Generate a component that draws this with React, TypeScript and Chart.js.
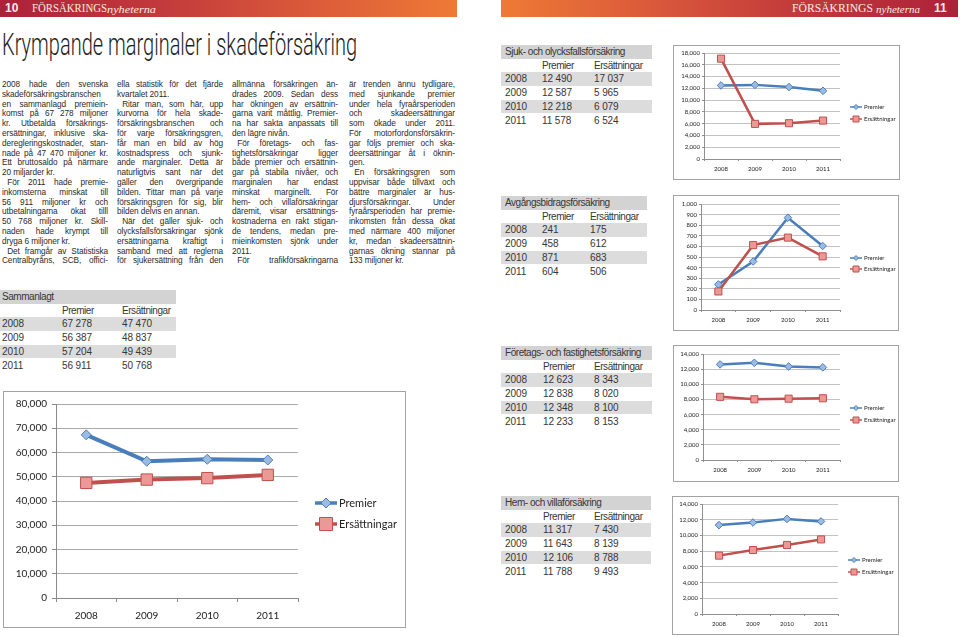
import React, { useEffect, useLayoutEffect, useRef } from "react";
import { Chart, registerables } from "chart.js";
Chart.register(...registerables);

// ---------- data ----------
const years = ["2008", "2009", "2010", "2011"];
const seriesNames = ["Premier", "Ersättningar"];

const sammanlagtPremier = [67278, 56387, 57204, 56911];
const sammanlagtErs = [47470, 48837, 49439, 50768];
const sjukPremier = [12490, 12587, 12218, 11578];
const sjukErs = [17037, 5965, 6079, 6524];
const avgPremier = [241, 458, 871, 604];
const avgErs = [175, 612, 683, 506];
const foretagPremier = [12623, 12838, 12348, 12233];
const foretagErs = [8343, 8020, 8100, 8153];
const hemPremier = [11317, 11643, 12106, 11788];
const hemErs = [7430, 8139, 8788, 9493];

const bigTicks = { max: 80000, step: 10000 };
const sjukTicks = { max: 18000, step: 2000 };
const avgTicks = { max: 1000, step: 100 };
const foretagTicks = { max: 14000, step: 2000 };
const hemTicks = { max: 14000, step: 2000 };

const col1 = [
  "2008 hade den svenska",
  "skadeförsäkringsbranschen",
  "en sammanlagd premiein-",
  "komst på 67 278 miljoner",
  "kr. Utbetalda försäkrings-",
  "ersättningar, inklusive ska-",
  "deregleringskostnader, stan-",
  "nade på 47 470 miljoner kr.",
  "Ett bruttosaldo på närmare",
  "20 miljarder kr.|",
  ">För 2011 hade premie-",
  "inkomsterna minskat till",
  "56 911 miljoner kr och",
  "utbetalningarna ökat tilll",
  "50 768 miljoner kr. Skill-",
  "naden hade krympt till",
  "dryga 6 miljoner kr.|",
  ">Det framgår av Statistiska",
  "Centralbyråns, SCB, offici-",
];
const col2 = [
  "ella statistik för det fjärde",
  "kvartalet 2011.|",
  ">Ritar man, som här, upp",
  "kurvorna för hela skade-",
  "försäkringsbranschen och",
  "för varje försäkringsgren,",
  "får man en bild av hög",
  "kostnadspress och sjunk-",
  "ande marginaler. Detta är",
  "naturligtvis sant när det",
  "gäller den övergripande",
  "bilden. Tittar man på varje",
  "försäkringsgren för sig, blir",
  "bilden delvis en annan.|",
  ">När det gäller sjuk- och",
  "olycksfallsförsäkringar sjönk",
  "ersättningarna kraftigt i",
  "samband med att reglerna",
  "för sjukersättning från den",
];
const col3 = [
  "allmänna försäkringen än-",
  "drades 2009. Sedan dess",
  "har ökningen av ersättnin-",
  "garna varit måttlig. Premier-",
  "na har sakta anpassats till",
  "den lägre nivån.|",
  ">För företags- och fas-",
  "tighetsförsäkringar ligger",
  "både premier och ersättnin-",
  "gar på stabila nivåer, och",
  "marginalen har endast",
  "minskat marginellt. För",
  "hem- och villaförsäkringar",
  "däremit, visar ersättnings-",
  "kostnaderna en rakt stigan-",
  "de tendens, medan pre-",
  "mieinkomsten sjönk under",
  "2011.|",
  ">För trafikförsäkringarna",
];
const col4 = [
  "är trenden ännu tydligare,",
  "med sjunkande premier",
  "under hela fyraårsperioden",
  "och skadeersättningar",
  "som ökade under 2011.",
  "För motorfordonsförsäkrin-",
  "gar följs premier och ska-",
  "deersättningar åt i öknin-",
  "gen.|",
  ">En försäkringsgren som",
  "uppvisar både tillväxt och",
  "bättre marginaler är hus-",
  "djursförsäkringar. Under",
  "fyraårsperioden har premie-",
  "inkomsten från dessa ökat",
  "med närmare 400 miljoner",
  "kr, medan skadeersättnin-",
  "garnas ökning stannar på",
  "133 miljoner kr.|",
];

// ---------- styles ----------
const SANS = '"Liberation Sans", Arial, Helvetica, sans-serif';
const SERIF = '"Liberation Serif", "DejaVu Serif", serif';
const CHART_FONT = 'Lato, "Open Sans", sans-serif';
const BLUE = "#4a7ebb";
const BLUE_FILL = "#9bbbe3";
const RED = "#c0504d";
const RED_FILL = "#ea9996";

const fmtComma = (v: number) => String(v).replace(/\B(?=(\d{3})+(?!\d))/g, ",");
const fmtSpace = (v: number) => String(v).replace(/\B(?=(\d{3})+(?!\d))/g, " ");

function FitLine({ target, style, children }: any) {
  const ref = useRef<HTMLSpanElement>(null);
  useLayoutEffect(() => {
    const el = ref.current;
    if (!el) return;
    el.style.transform = "none";
    const w = el.getBoundingClientRect().width;
    if (w > 0) el.style.transform = `scaleX(${target / w})`;
  }, [target]);
  return (
    <span
      ref={ref}
      style={{ display: "inline-block", whiteSpace: "nowrap", transformOrigin: "left top", ...style }}
    >
      {children}
    </span>
  );
}

function TextColumn({ lines, left, top }: { lines: string[]; left: number; top: number }) {
  const W = 122;
  const target = 106;
  return (
    <div
      style={{
        position: "absolute",
        left,
        top,
        width: W,
        transform: `scaleX(${target / W})`,
        transformOrigin: "left top",
        fontFamily: SANS,
        fontSize: 9.5,
        lineHeight: "9.8px",
        letterSpacing: "-0.1px",
        color: "#2b2b2b",
      }}
    >
      {lines.map((raw, i) => {
        const indent = raw.startsWith(">");
        const last = raw.endsWith("|");
        const t = raw.replace(/^>/, "").replace(/\|$/, "");
        return (
          <div
            key={i}
            style={{
              height: 9.8,
              paddingLeft: indent ? 6 : 0,
              textAlign: last ? "left" : "justify",
              textAlignLast: last ? "left" : "justify",
              whiteSpace: "normal",
            } as any}
          >
            {t}
          </div>
        );
      })}
    </div>
  );
}

function DataTable({ left, top, width, title, premier, ers, cols }: any) {
  const RH = 13.7;
  const wordStyle = { letterSpacing: "-0.45px" };
  const numStyle = { letterSpacing: "-0.1px" };
  const rowBase: any = { position: "absolute", left: 0, width, height: RH, lineHeight: `${RH}px` };
  return (
    <div style={{ position: "absolute", left, top, width, fontFamily: SANS, fontSize: 10, color: "#363636" }}>
      <div style={{ ...rowBase, top: 0, background: "#d3d3d3" }}>
        <span style={{ position: "absolute", left: cols[0], ...wordStyle }}>{title}</span>
      </div>
      <div style={{ ...rowBase, top: RH }}>
        <span style={{ position: "absolute", left: cols[1], ...wordStyle }}>{seriesNames[0]}</span>
        <span style={{ position: "absolute", left: cols[2], ...wordStyle }}>{seriesNames[1]}</span>
      </div>
      {years.map((y, i) => (
        <div key={y} style={{ ...rowBase, top: RH * (2 + i), background: i % 2 === 0 ? "#dcdcdc" : "transparent" }}>
          <span style={{ position: "absolute", left: cols[0], ...numStyle }}>{y}</span>
          <span style={{ position: "absolute", left: cols[1], ...numStyle }}>{fmtSpace(premier[i])}</span>
          <span style={{ position: "absolute", left: cols[2], ...numStyle }}>{fmtSpace(ers[i])}</span>
        </div>
      ))}
    </div>
  );
}

type ChartProps = {
  left: number; top: number; w: number; h: number;
  yw: number; xh: number; pt: number; pr: number;
  max: number; step: number;
  premier: number[]; ers: number[];
  tick: number; legFont: number; tl: number; ypad: number; xpad: number;
  lw: number; dr: number; sr: number;
  legX: number; legLen: number; legY: number[]; legDr: number; legSr: number; legLw: number;
  grid: string; axis: string; border: number;
};

function LineChart(p: ChartProps) {
  const ref = useRef<HTMLCanvasElement>(null);
  useEffect(() => {
    if (!ref.current) return;
    const legendPlugin = {
      id: "excelLegend",
      afterDatasetsDraw(chart: any) {
        const ctx = chart.ctx;
        chart.data.datasets.forEach((ds: any, i: number) => {
          const y = p.legY[i];
          ctx.save();
          ctx.strokeStyle = ds.borderColor;
          ctx.lineWidth = p.legLw;
          ctx.beginPath();
          ctx.moveTo(p.legX, y);
          ctx.lineTo(p.legX + p.legLen, y);
          ctx.stroke();
          const cx = p.legX + p.legLen / 2;
          ctx.fillStyle = ds.pointBackgroundColor;
          ctx.strokeStyle = ds.pointBorderColor;
          ctx.lineWidth = 1;
          ctx.beginPath();
          if (ds.pointStyle === "rectRot") {
            const r = p.legDr;
            ctx.moveTo(cx - r, y);
            ctx.lineTo(cx, y - r);
            ctx.lineTo(cx + r, y);
            ctx.lineTo(cx, y + r);
            ctx.closePath();
          } else {
            const s = p.legSr;
            ctx.rect(cx - s, y - s, 2 * s, 2 * s);
          }
          ctx.fill();
          ctx.stroke();
          ctx.fillStyle = "#222";
          ctx.font = `${p.legFont}px ${CHART_FONT}`;
          ctx.textBaseline = "middle";
          ctx.textAlign = "left";
          ctx.fillText(ds.label, p.legX + p.legLen + 2, y + 0.5);
          ctx.restore();
        });
      },
    };
    const chart = new Chart(ref.current, {
      type: "line",
      data: {
        labels: years,
        datasets: [
          {
            label: seriesNames[0],
            data: p.premier,
            borderColor: BLUE,
            backgroundColor: BLUE_FILL,
            borderWidth: p.lw,
            pointStyle: "rectRot",
            pointRadius: p.dr,
            pointHoverRadius: p.dr,
            pointBackgroundColor: BLUE_FILL,
            pointBorderColor: BLUE,
            pointBorderWidth: 1,
            tension: 0,
            order: 1,
          },
          {
            label: seriesNames[1],
            data: p.ers,
            borderColor: RED,
            backgroundColor: RED_FILL,
            borderWidth: p.lw,
            pointStyle: "rect",
            pointRadius: p.sr,
            pointHoverRadius: p.sr,
            pointBackgroundColor: RED_FILL,
            pointBorderColor: RED,
            pointBorderWidth: 1,
            tension: 0,
            order: 0,
          },
        ],
      },
      options: {
        responsive: false,
        maintainAspectRatio: false,
        animation: false,
        events: [],
        layout: { padding: { left: 0, top: p.pt, right: p.pr, bottom: 0 } },
        plugins: { legend: { display: false }, tooltip: { enabled: false } },
        scales: {
          x: {
            type: "category",
            offset: true,
            grid: {
              offset: true,
              drawOnChartArea: false,
              drawTicks: true,
              tickLength: p.tl,
              color: p.axis,
            },
            border: { display: true, color: p.axis, width: 1 },
            ticks: {
              font: { family: CHART_FONT, size: p.tick },
              color: "#222",
              padding: p.xpad,
              maxRotation: 0,
              autoSkip: false,
            },
            afterFit(s: any) {
              s.height = p.xh;
            },
          },
          y: {
            min: 0,
            max: p.max,
            grid: { color: p.grid, tickLength: p.tl, drawTicks: true, tickColor: p.axis },
            border: { display: true, color: p.axis, width: 1 },
            ticks: {
              stepSize: p.step,
              font: { family: CHART_FONT, size: p.tick },
              color: "#222",
              padding: p.ypad,
              callback: (v: any) => fmtComma(Number(v)),
            },
            afterFit(s: any) {
              s.width = p.yw;
            },
          },
        },
      },
      plugins: [legendPlugin],
    } as any);
    return () => chart.destroy();
  }, []);
  return (
    <div
      style={{
        position: "absolute",
        left: p.left,
        top: p.top,
        width: p.w + 2 * p.border,
        height: p.h + 2 * p.border,
        border: `${p.border}px solid #a3a3a3`,
        boxSizing: "border-box",
        background: "#fff",
      }}
    >
      <canvas ref={ref} width={p.w} height={p.h} style={{ display: "block", width: p.w, height: p.h }} />
    </div>
  );
}

const smallBase = {
  tick: 6,
  legFont: 6,
  tl: 2,
  ypad: 2,
  xpad: 4,
  lw: 2.5,
  dr: 3.8,
  sr: 5,
  legLen: 12,
  legDr: 2.5,
  legSr: 3,
  legLw: 1.5,
  grid: "#c2c2c2",
  axis: "#8f8f8f",
  border: 1,
};

export default function App() {
  useEffect(() => {
    document.body.style.margin = "0";
    document.body.style.background = "#fff";
  }, []);
  return (
    <div
      style={{
        position: "absolute",
        left: 0,
        top: 0,
        width: 960,
        height: 637,
        overflow: "hidden",
        background: "#fff",
        fontFamily: SANS,
      }}
    >
      {/* header bars */}
      <div
        style={{
          position: "absolute",
          left: 0,
          top: 0,
          width: 457,
          height: 17,
          background: "linear-gradient(to right, #ad2139 0%, #c23a3b 35%, #dc5c3a 70%, #ee7a35 100%)",
          color: "#fbe9e4",
        }}
      >
        <span style={{ position: "absolute", left: 5, top: 1, fontFamily: SANS, fontWeight: 700, fontSize: 12, lineHeight: "15px" }}>
          10
        </span>
        <span style={{ position: "absolute", left: 32, top: 1, fontFamily: SERIF, fontSize: 12.5, lineHeight: "15px" }}>
          <FitLine target={75}>FÖRSÄKRINGS</FitLine>
        </span>
        <span style={{ position: "absolute", left: 107, top: 2, fontFamily: SERIF, fontStyle: "italic", fontSize: 11, lineHeight: "15px" }}>
          <FitLine target={49}>nyheterna</FitLine>
        </span>
      </div>
      <div
        style={{
          position: "absolute",
          left: 501,
          top: 0,
          width: 457,
          height: 17,
          background: "linear-gradient(to right, #ee7a35 0%, #dc5c3a 30%, #c23a3b 65%, #ad2139 100%)",
          color: "#fbe9e4",
        }}
      >
        <span style={{ position: "absolute", left: 291, top: 1, fontFamily: SERIF, fontSize: 12.5, lineHeight: "15px" }}>
          <FitLine target={81}>FÖRSÄKRINGS</FitLine>
        </span>
        <span style={{ position: "absolute", left: 375, top: 2, fontFamily: SERIF, fontStyle: "italic", fontSize: 11, lineHeight: "15px" }}>
          <FitLine target={44}>nyheterna</FitLine>
        </span>
        <span style={{ position: "absolute", left: 433, top: 1, fontFamily: SANS, fontWeight: 700, fontSize: 12, lineHeight: "15px" }}>
          11
        </span>
      </div>

      {/* title */}
      <div
        style={{
          position: "absolute",
          left: 2,
          top: 28,
          fontFamily: '"Roboto Light", "Open Sans Light", "DejaVu Sans ExtraLight", Roboto, "Open Sans", sans-serif',
          fontWeight: 300,
          fontSize: 32,
          lineHeight: "32px",
          color: "#1e1e1e",
        }}
      >
        <FitLine target={355}>Krympande marginaler i skadeförsäkring</FitLine>
      </div>

      {/* body text */}
      <TextColumn lines={col1} left={2} top={79} />
      <TextColumn lines={col2} left={117} top={79} />
      <TextColumn lines={col3} left={232} top={79} />
      <TextColumn lines={col4} left={349} top={79} />

      {/* tables */}
      <DataTable left={0} top={290} width={176} title="Sammanlagt" premier={sammanlagtPremier} ers={sammanlagtErs} cols={[2, 62, 122]} />
      <DataTable left={501} top={45} width={151} title="Sjuk- och olycksfallsförsäkring" premier={sjukPremier} ers={sjukErs} cols={[4, 41, 93]} />
      <DataTable left={501} top={196} width={146} title="Avgångsbidragsförsäkring" premier={avgPremier} ers={avgErs} cols={[4, 41, 89]} />
      <DataTable left={501} top={346} width={151} title="Företags- och fastighetsförsäkring" premier={foretagPremier} ers={foretagErs} cols={[4, 42, 93]} />
      <DataTable left={501} top={496} width={150} title="Hem- och villaförsäkring" premier={hemPremier} ers={hemErs} cols={[4, 42, 93]} />

      {/* big chart */}
      <LineChart
        left={3}
        top={391}
        w={401}
        h={235}
        yw={52}
        xh={29}
        pt={12}
        pr={107}
        max={bigTicks.max}
        step={bigTicks.step}
        premier={sammanlagtPremier}
        ers={sammanlagtErs}
        tick={10}
        legFont={11}
        tl={4}
        ypad={5}
        xpad={8}
        lw={4}
        dr={5}
        sr={8}
        legX={311}
        legLen={22}
        legY={[111, 132]}
        legDr={5}
        legSr={6.5}
        legLw={3.5}
        grid="#a9a9a9"
        axis="#8a8a8a"
        border={1}
      />

      {/* small charts */}
      <LineChart
        {...smallBase}
        left={673}
        top={45}
        w={225}
        h={133}
        yw={30}
        xh={20}
        pt={7}
        pr={59}
        max={sjukTicks.max}
        step={sjukTicks.step}
        premier={sjukPremier}
        ers={sjukErs}
        legX={176}
        legY={[61, 73]}
      />
      <LineChart
        {...smallBase}
        left={673}
        top={195}
        w={224}
        h={134}
        yw={27}
        xh={20}
        pt={8}
        pr={58}
        max={avgTicks.max}
        step={avgTicks.step}
        premier={avgPremier}
        ers={avgErs}
        legX={176}
        legY={[62, 73]}
      />
      <LineChart
        {...smallBase}
        left={673}
        top={345}
        w={224}
        h={135}
        yw={29}
        xh={21}
        pt={8}
        pr={58}
        max={foretagTicks.max}
        step={foretagTicks.step}
        premier={foretagPremier}
        ers={foretagErs}
        legX={176}
        legY={[62, 74]}
      />
      <LineChart
        {...smallBase}
        left={672}
        top={496}
        w={225}
        h={137}
        yw={29}
        xh={20}
        pt={7}
        pr={60}
        max={hemTicks.max}
        step={hemTicks.step}
        premier={hemPremier}
        ers={hemErs}
        legX={175}
        legY={[63, 75]}
      />
    </div>
  );
}
